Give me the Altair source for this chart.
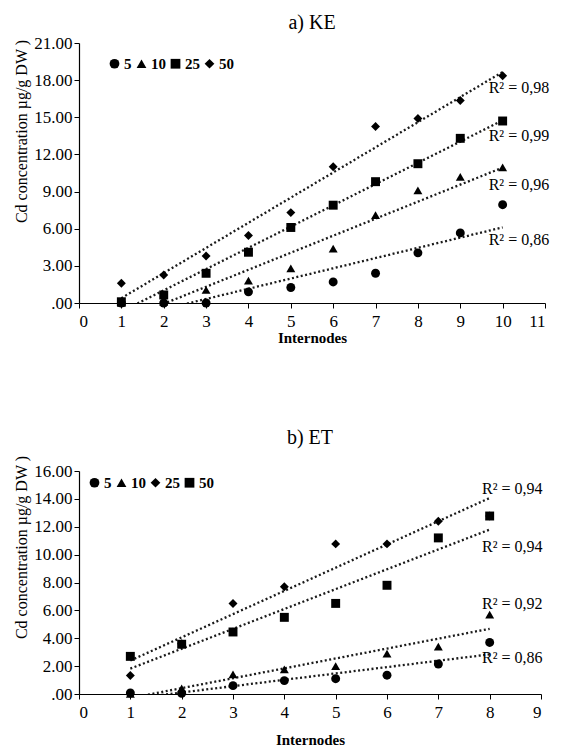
import altair as alt
import pandas as pd

# ---- data ----
series_names = ["5", "10", "25", "50"]

top_x = [1, 2, 3, 4, 5, 6, 7, 8, 9, 10]
top_5 = [0.0, 0.0, 0.0, 0.9, 1.25, 1.7, 2.4, 4.05, 5.66, 7.94]
top_10 = [0.0, 0.1, 1.05, 1.8, 2.8, 4.4, 7.1, 9.1, 10.18, 10.95]
top_25 = [0.1, 0.65, 2.4, 4.1, 6.1, 7.9, 9.8, 11.25, 13.3, 14.7]
top_50 = [1.6, 2.26, 3.8, 5.45, 7.3, 11.0, 14.25, 14.9, 16.35, 18.35]
top_shapes = ["circle", "triangle-up", "square", "diamond"]
top_r2 = ["R² = 0,98", "R² = 0,99", "R² = 0,96", "R² = 0,86"]
top_r2_x = [9.67, 9.67, 9.67, 9.67]
top_r2_y = [17.4, 13.5, 9.5, 5.1]

bot_x = [1, 2, 3, 4, 5, 6, 7, 8]
bot_5 = [0.07, 0.05, 0.6, 0.96, 1.1, 1.35, 2.15, 3.7]
bot_10 = [0.0, 0.4, 1.4, 1.76, 2.0, 2.9, 3.4, 5.7]
bot_25 = [1.33, 3.6, 6.5, 7.7, 10.77, 10.77, 12.4, 12.77]
bot_50 = [2.7, 3.57, 4.45, 5.5, 6.5, 7.8, 11.2, 12.77]
bot_shapes = ["circle", "triangle-up", "diamond", "square"]
bot_r2 = ["R² = 0,94", "R² = 0,94", "R² = 0,92", "R² = 0,86"]
bot_r2_x = [7.85, 7.85, 7.85, 7.85]
bot_r2_y = [14.7, 10.55, 6.47, 2.6]

Y_TITLE = "Cd concentration µg/g DW )"
SERIF = "Liberation Serif"


def long_df(xs, cols):
    rows = []
    for name, vals in zip(series_names, cols):
        for x, v in zip(xs, vals):
            rows.append({"x": x, "y": v, "series": name})
    return pd.DataFrame(rows)


def panel(title, xs, cols, shapes, r2, r2x, r2y, xmax, ymax, ystep,
          w, h, title_offset, legend_x, legend_y, ytitle_y, xtitle_pad, col_pad):
    df = long_df(xs, cols)
    lab = pd.DataFrame({"x": r2x, "y": r2y, "t": r2})
    xs_scale = alt.Scale(domain=[0, xmax], nice=False, zero=True)
    ys_scale = alt.Scale(domain=[0, ymax], nice=False)
    xaxis = alt.Axis(values=list(range(0, xmax + 1)), title="Internodes",
                     titleFontWeight="bold", titleFontSize=15,
                     titlePadding=xtitle_pad, labelFontSize=17, grid=False,
                     tickSize=5, labelPadding=5, labelOverlap=False)
    yaxis = alt.Axis(values=[ystep * i for i in range(0, int(ymax / ystep) + 1)],
                     title=Y_TITLE, titleFontWeight="normal", titleFontSize=16,
                     titleY=ytitle_y, labelFontSize=17, grid=False, tickSize=5,
                     labelOverlap=False, labelBound=False,
                     labelExpr="datum.value == 0 ? '.00' : format(datum.value, '.2f')")
    base = alt.Chart(df)
    lines = base.transform_regression("x", "y", groupby=["series"]).mark_line(
        color="#1a1a1a", strokeDash=[2, 2.5], strokeWidth=2.3, clip=True
    ).encode(x=alt.X("x:Q", scale=xs_scale, axis=xaxis),
             y=alt.Y("y:Q", scale=ys_scale, axis=yaxis),
             detail="series:N")
    pts = base.mark_point(filled=True, color="black", opacity=1, size=80).encode(
        x=alt.X("x:Q", scale=xs_scale, axis=xaxis),
        y=alt.Y("y:Q", scale=ys_scale, axis=yaxis),
        shape=alt.Shape("series:N",
                        scale=alt.Scale(domain=series_names, range=shapes),
                        legend=alt.Legend(orient="none", legendX=legend_x,
                                          legendY=legend_y, direction="horizontal",
                                          title=None, labelFont=SERIF,
                                          labelFontWeight="bold", labelFontSize=15,
                                          labelColor="black", symbolSize=95,
                                          symbolFillColor="black",
                                          symbolStrokeColor="black",
                                          symbolOpacity=1, labelOffset=2,
                                          columnPadding=col_pad)),
    )
    txt = alt.Chart(lab).mark_text(align="left", baseline="middle", font=SERIF,
                                   fontSize=16, color="black").encode(
        x=alt.X("x:Q", scale=xs_scale, axis=xaxis),
        y=alt.Y("y:Q", scale=ys_scale, axis=yaxis), text="t:N")
    return alt.layer(lines, pts, txt).properties(
        width=w, height=h,
        title=alt.TitleParams(title, offset=title_offset))


top = panel("a) KE", top_x, [top_5, top_10, top_25, top_50], top_shapes,
            top_r2, top_r2_x, top_r2_y, 11, 21, 3, 466, 260, 1, 28, 13, 88, 1, 1)
bot = panel("b) ET", bot_x, [bot_5, bot_10, bot_25, bot_50], bot_shapes,
            bot_r2, bot_r2_x, bot_r2_y, 9, 16, 2, 462, 223, 7, 8, 4, 76, 12, 1)

chart = alt.vconcat(top, bot, spacing=83).resolve_scale(
    shape="independent", x="independent", y="independent"
).resolve_legend(shape="independent").properties(
    padding={"top": 5, "left": 5, "right": 5, "bottom": 5}
).configure_view(stroke=None).configure_axis(
    labelFont=SERIF, titleFont=SERIF, labelColor="black", titleColor="black",
    domainColor="black", tickColor="black", domainWidth=1.2, labelOverlap=False
).configure_title(font=SERIF, fontSize=20, fontWeight="normal", color="black",
                  anchor="middle")

chart.save("out.html", embed_options={"renderer": "svg", "actions": False})
